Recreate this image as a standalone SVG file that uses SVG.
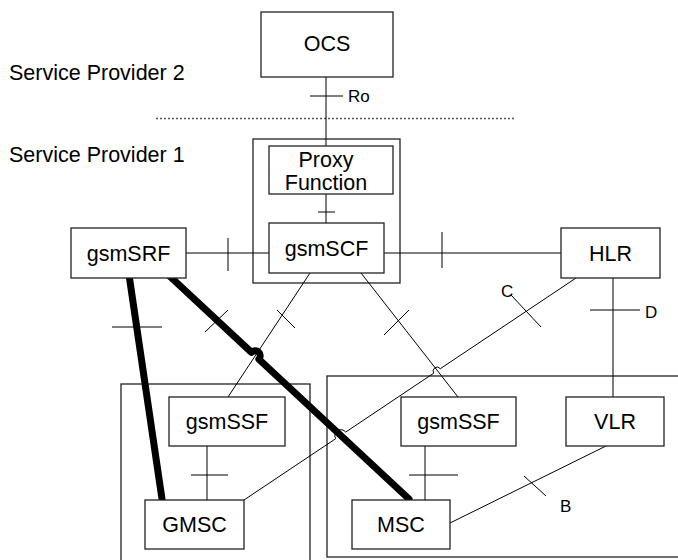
<svg xmlns="http://www.w3.org/2000/svg" width="678" height="560" viewBox="0 0 678 560">
<style>
.box{fill:#fff;stroke:#222;stroke-width:1.3}
.cont{fill:none;stroke:#222;stroke-width:1.3}
.t{font-family:"Liberation Sans",Arial,sans-serif;font-size:21.5px;text-anchor:middle;fill:#000}
.lbl{font-family:"Liberation Sans",Arial,sans-serif;font-size:17px;fill:#000}
.side{font-family:"Liberation Sans",Arial,sans-serif;font-size:21.5px;fill:#000}
.ln{fill:none;stroke:#000;stroke-width:1}
.thick{fill:none;stroke:#000;stroke-width:7;stroke-linecap:round;stroke-linejoin:round}
</style>
<rect width="678" height="560" fill="#fff"/>
<text class="side" x="9" y="80">Service Provider 2</text>
<text class="side" x="9" y="162">Service Provider 1</text>
<line x1="156" y1="118.5" x2="516" y2="118.5" stroke="#555" stroke-width="1.3" stroke-dasharray="2 2"/>
<g id="containers">
<rect class="cont" x="253" y="139" width="147" height="144"/>
<rect class="cont" x="121" y="384" width="189" height="190"/>
<rect class="cont" x="327" y="376" width="370" height="181"/>
</g>
<g id="connectors">
<line class="ln" x1="326" y1="77" x2="326" y2="146" stroke="#333"/>
<line class="ln" x1="310" y1="96" x2="343" y2="96" stroke="#444" stroke-width="1.5"/>
<line class="ln" x1="326" y1="194" x2="326" y2="223"/>
<line class="ln" x1="318" y1="212" x2="335" y2="212"/>
<line class="ln" x1="186" y1="253" x2="269" y2="253"/>
<line class="ln" x1="228" y1="238" x2="228" y2="271"/>
<line class="ln" x1="384" y1="253" x2="561" y2="253"/>
<line class="ln" x1="442" y1="232" x2="442" y2="268"/>
<line class="ln" x1="310" y1="273" x2="228" y2="397"/>
<line class="ln" x1="277" y1="310" x2="295" y2="328"/>
<line class="ln" x1="361" y1="273" x2="458" y2="397"/>
<line class="ln" x1="384" y1="335" x2="409" y2="310"/>
<line class="ln" x1="613" y1="278" x2="613" y2="397"/>
<line class="ln" x1="590" y1="310" x2="640" y2="310"/>
<path class="ln" d="M576,278 L440.3,368.7 A4,4 0 0 0 433.7,373.2 L345.7,432.1 A6,6 0 0 0 335.7,438.7 L244,500"/>
<line class="ln" x1="511" y1="295" x2="541" y2="327"/>
<line class="ln" x1="207" y1="446" x2="207" y2="500"/>
<line class="ln" x1="191" y1="475" x2="228" y2="475"/>
<line class="ln" x1="425" y1="446" x2="425" y2="500"/>
<line class="ln" x1="409" y1="475" x2="458" y2="475"/>
<line class="ln" x1="606" y1="446" x2="450" y2="523"/>
<line class="ln" x1="524" y1="476" x2="546" y2="496"/>
<path class="thick" d="M162,269 L251.5,352.4 A5,5 0 0 1 258.9,359.2 L409,499"/>
<line class="ln" x1="205" y1="332" x2="228" y2="310"/>
<path class="thick" d="M128,268 L162,499"/>
<line class="ln" x1="112" y1="327" x2="162" y2="327"/>
<text class="lbl" x="348" y="102">Ro</text>
<text class="lbl" x="501" y="297">C</text>
<text class="lbl" x="645" y="318">D</text>
<text class="lbl" x="560" y="512">B</text>
</g>
<g id="ocs"><rect class="box" x="261" y="12" width="132" height="65"/><text class="t" x="327" y="51">OCS</text></g>
<g id="proxy"><rect class="box" x="269" y="146" width="124" height="48"/><text class="t" x="326" y="167">Proxy</text><text class="t" x="326" y="190">Function</text></g>
<g id="gsmSCF"><rect class="box" x="269" y="223" width="115" height="50"/><text class="t" x="326.5" y="256">gsmSCF</text></g>
<g id="gsmSRF"><rect class="box" x="71" y="228" width="115" height="50"/><text class="t" x="128.5" y="260.5">gsmSRF</text></g>
<g id="HLR"><rect class="box" x="561" y="228" width="99" height="50"/><text class="t" x="610.5" y="260.5">HLR</text></g>
<g id="gsmSSF1"><rect class="box" x="169" y="397" width="116" height="49"/><text class="t" x="227" y="429">gsmSSF</text></g>
<g id="gsmSSF2"><rect class="box" x="401" y="397" width="115" height="49"/><text class="t" x="458.5" y="429">gsmSSF</text></g>
<g id="VLR"><rect class="box" x="566" y="397" width="98" height="49"/><text class="t" x="615" y="429">VLR</text></g>
<g id="GMSC"><rect class="box" x="145" y="500" width="99" height="49"/><text class="t" x="194.5" y="532">GMSC</text></g>
<g id="MSC"><rect class="box" x="352" y="500" width="98" height="49"/><text class="t" x="401" y="532">MSC</text></g>
</svg>
